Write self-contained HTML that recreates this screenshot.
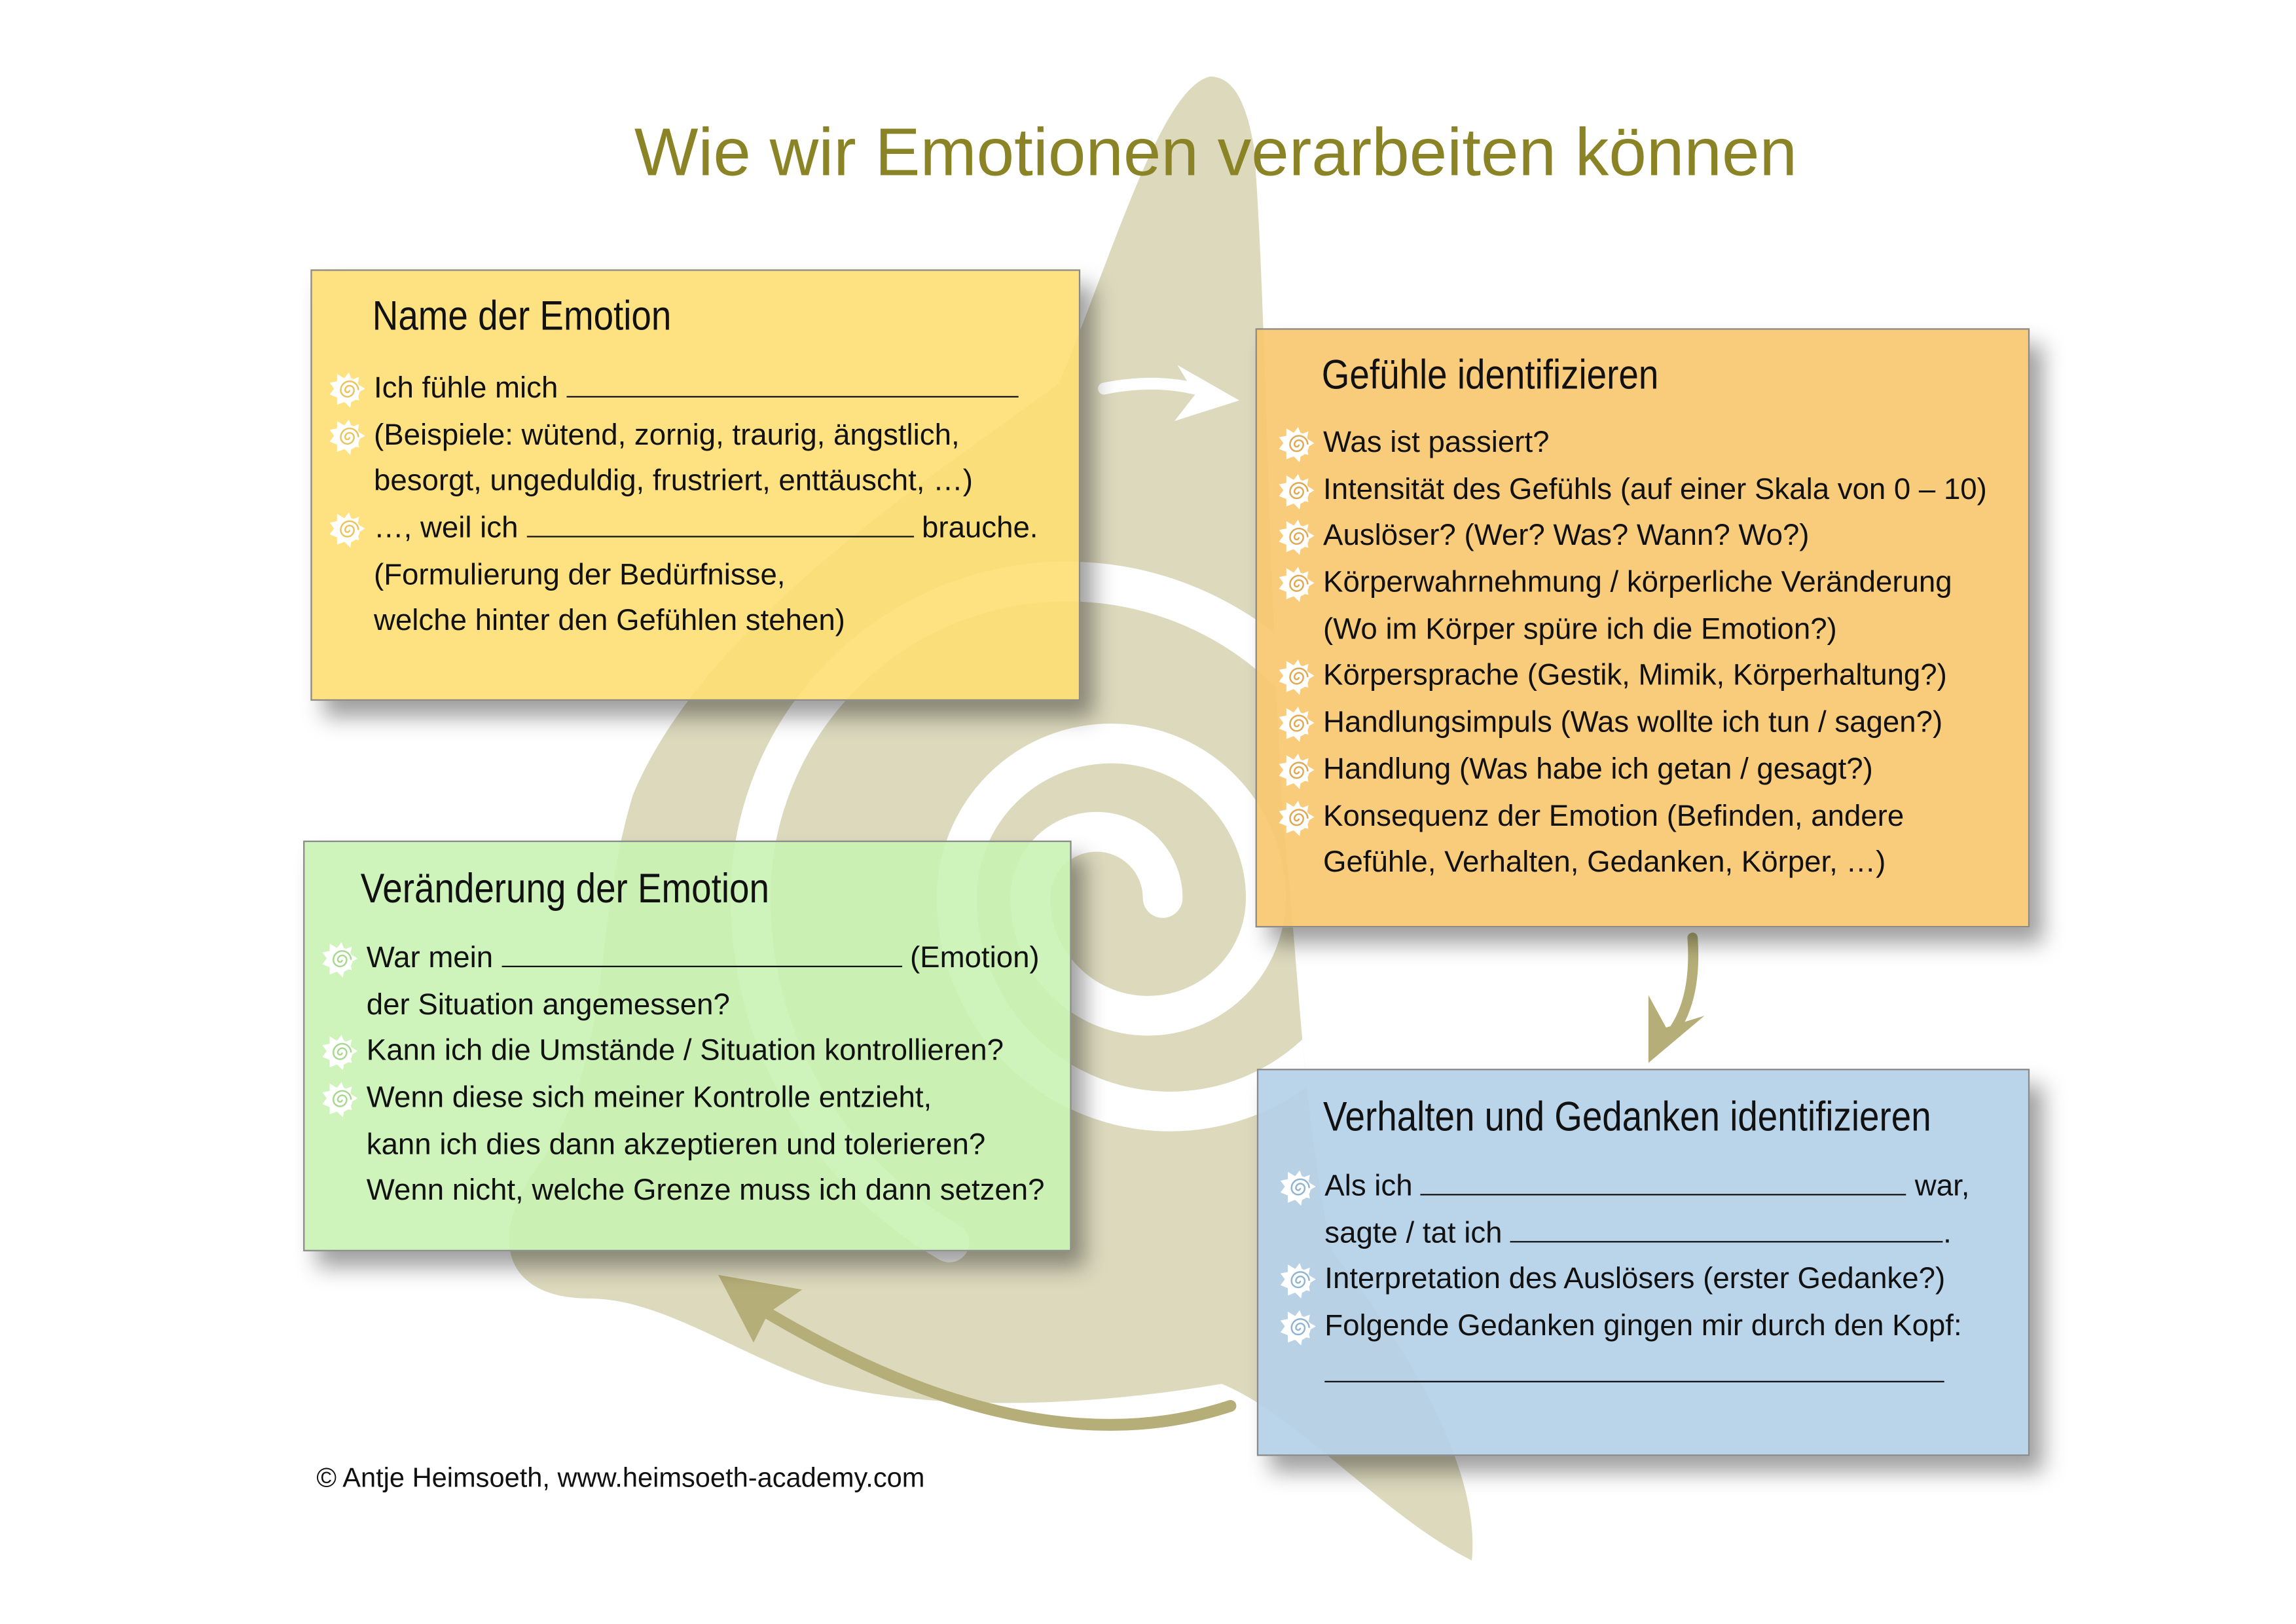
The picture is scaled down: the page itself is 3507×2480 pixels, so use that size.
<!DOCTYPE html>
<html><head><meta charset="utf-8">
<style>
html,body{margin:0;padding:0;background:#fff;}
body{width:3507px;height:2480px;overflow:hidden;position:relative;}
#c{position:absolute;left:0;top:0;width:1560px;height:1103px;transform:scale(2.2481);transform-origin:0 0;font-family:"Liberation Sans",Arial,sans-serif;}
.box{position:absolute;border:1.5px solid #8a8a8a;box-shadow:9px 11px 14px rgba(0,0,0,0.38);box-sizing:border-box;}
.h{position:absolute;font-size:28px;white-space:nowrap;transform:scaleX(0.87);transform-origin:0 50%;color:#111;line-height:34px;}
.t{position:absolute;font-size:20.3px;line-height:31.7px;white-space:nowrap;color:#111;}
.t div{position:relative;height:31.7px;}
.b{position:absolute;left:-31px;top:3px;width:26px;height:26px;}
.u{display:inline-block;border-bottom:1.6px solid #111;height:20px;vertical-align:baseline;}
.title{position:absolute;left:0;width:1652px;text-align:center;top:76px;font-size:46px;color:#8b8426;white-space:nowrap;}
.copy{position:absolute;left:215px;top:993px;font-size:18.5px;color:#111;white-space:nowrap;}
</style></head><body>
<div id="c">
<svg width="1560" height="1103" style="position:absolute;left:0;top:0">
<defs>
<clipPath id="cp"><path d="M822,52 C790,60 760,160 720,260 C640,320 480,420 430,540 C400,640 420,720 360,800 C330,850 350,882 400,882 C450,882 500,920 560,940 C650,962 760,952 830,940 C880,960 940,1030 1000,1060 C1006,1000 960,920 905,850 C885,760 882,650 872,560 C862,400 860,200 852,100 C846,65 836,52 822,52 Z"/></clipPath>
<symbol id="sun" viewBox="0 0 26 26">
<polygon points="14,1 16,6 21,4 20,9 25,12 20,15 21,20 16,19 15,25 11,21 6,23 6,18 1,16 4,12 1,8 6,7 6,2 11,5" fill="#fff"/>
<circle cx="13" cy="13" r="8.5" fill="#fff"/>
<path d="M13,13 m1.5,0 a1.5,1.5 0 1,1 -3,0 a3,3 0 1,1 6,0 a4.5,4.5 0 1,1 -9,0 a6,6 0 1,1 12,0" fill="none" stroke="currentColor" stroke-width="1.1"/>
</symbol>
</defs>
<path d="M822,52 C790,60 760,160 720,260 C640,320 480,420 430,540 C400,640 420,720 360,800 C330,850 350,882 400,882 C450,882 500,920 560,940 C650,962 760,952 830,940 C880,960 940,1030 1000,1060 C1006,1000 960,920 905,850 C885,760 882,650 872,560 C862,400 860,200 852,100 C846,65 836,52 822,52 Z" fill="#dcd9bd"/>
<g clip-path="url(#cp)">
<path d="M790,610 A45,45 0 0 0 700,610 A80,80 0 0 0 860,610 A105,105 0 0 0 650,610 A145,145 0 0 0 940,610 A215,215 0 0 0 510,610 A270,270 0 0 0 645,844" fill="none" stroke="#fff" stroke-width="27" stroke-linecap="round"/>
</g>
<!-- arrows -->
<path d="M750,264 Q790,256 822,267" fill="none" stroke="#fff" stroke-width="8" stroke-linecap="round"/>
<polygon points="842,272 800,248 812,268 798,286" fill="#fff"/>
<path d="M1150,637 Q1153,680 1135,703" fill="none" stroke="#b5ae78" stroke-width="7" stroke-linecap="round"/>
<polygon points="1120,722 1120,676 1132,698 1158,690" fill="#b5ae78"/>
<path d="M836,955 Q700,1000 515,888" fill="none" stroke="#b5ae78" stroke-width="8" stroke-linecap="round"/>
<polygon points="488,866 545,876 522,892 512,912" fill="#b5ae78"/>
</svg>

<div class="title">Wie wir Emotionen verarbeiten können</div>

<!-- yellow -->
<div class="box" style="left:211px;top:183px;width:523px;height:293px;background:rgba(254,222,112,0.88)"></div>
<div class="h" style="left:253px;top:198px">Name der Emotion</div>
<div class="t" style="left:254px;top:249px">
<div><svg class="b" style="color:#eac45a"><use href="#sun"/></svg>Ich fühle mich <span class="u" style="width:307px"></span></div>
<div><svg class="b" style="color:#eac45a"><use href="#sun"/></svg>(Beispiele: wütend, zornig, traurig, ängstlich,</div>
<div>besorgt, ungeduldig, frustriert, enttäuscht, …)</div>
<div><svg class="b" style="color:#eac45a"><use href="#sun"/></svg>…, weil ich <span class="u" style="width:263px"></span> brauche.</div>
<div>(Formulierung der Bedürfnisse,</div>
<div>welche hinter den Gefühlen stehen)</div>
</div>

<!-- orange -->
<div class="box" style="left:853px;top:223px;width:526px;height:407px;background:rgba(248,198,110,0.9)"></div>
<div class="h" style="left:898px;top:238px">Gefühle identifizieren</div>
<div class="t" style="left:899px;top:286px">
<div><svg class="b" style="color:#e0a850"><use href="#sun"/></svg>Was ist passiert?</div>
<div><svg class="b" style="color:#e0a850"><use href="#sun"/></svg>Intensität des Gefühls (auf einer Skala von 0 – 10)</div>
<div><svg class="b" style="color:#e0a850"><use href="#sun"/></svg>Auslöser? (Wer? Was? Wann? Wo?)</div>
<div><svg class="b" style="color:#e0a850"><use href="#sun"/></svg>Körperwahrnehmung / körperliche Veränderung</div>
<div>(Wo im Körper spüre ich die Emotion?)</div>
<div><svg class="b" style="color:#e0a850"><use href="#sun"/></svg>Körpersprache (Gestik, Mimik, Körperhaltung?)</div>
<div><svg class="b" style="color:#e0a850"><use href="#sun"/></svg>Handlungsimpuls (Was wollte ich tun / sagen?)</div>
<div><svg class="b" style="color:#e0a850"><use href="#sun"/></svg>Handlung (Was habe ich getan / gesagt?)</div>
<div><svg class="b" style="color:#e0a850"><use href="#sun"/></svg>Konsequenz der Emotion (Befinden, andere</div>
<div>Gefühle, Verhalten, Gedanken, Körper, …)</div>
</div>

<!-- green -->
<div class="box" style="left:206px;top:571px;width:522px;height:279px;background:rgba(200,242,178,0.88)"></div>
<div class="h" style="left:245px;top:587px">Veränderung der Emotion</div>
<div class="t" style="left:249px;top:636px">
<div><svg class="b" style="color:#a8d890"><use href="#sun"/></svg>War mein <span class="u" style="width:272px"></span> (Emotion)</div>
<div>der Situation angemessen?</div>
<div><svg class="b" style="color:#a8d890"><use href="#sun"/></svg>Kann ich die Umstände / Situation kontrollieren?</div>
<div><svg class="b" style="color:#a8d890"><use href="#sun"/></svg>Wenn diese sich meiner Kontrolle entzieht,</div>
<div>kann ich dies dann akzeptieren und tolerieren?</div>
<div>Wenn nicht, welche Grenze muss ich dann setzen?</div>
</div>

<!-- blue -->
<div class="box" style="left:854px;top:726px;width:525px;height:263px;background:rgba(180,208,232,0.92)"></div>
<div class="h" style="left:899px;top:742px">Verhalten und Gedanken identifizieren</div>
<div class="t" style="left:900px;top:791px">
<div><svg class="b" style="color:#90b4d4"><use href="#sun"/></svg>Als ich <span class="u" style="width:330px"></span> war,</div>
<div>sagte / tat ich <span class="u" style="width:294px"></span>.</div>
<div><svg class="b" style="color:#90b4d4"><use href="#sun"/></svg>Interpretation des Auslösers (erster Gedanke?)</div>
<div><svg class="b" style="color:#90b4d4"><use href="#sun"/></svg>Folgende Gedanken gingen mir durch den Kopf:</div>
<div><span class="u" style="width:421px"></span></div>
</div>

<div class="copy">© Antje Heimsoeth, www.heimsoeth-academy.com</div>
</div>
</body></html>
